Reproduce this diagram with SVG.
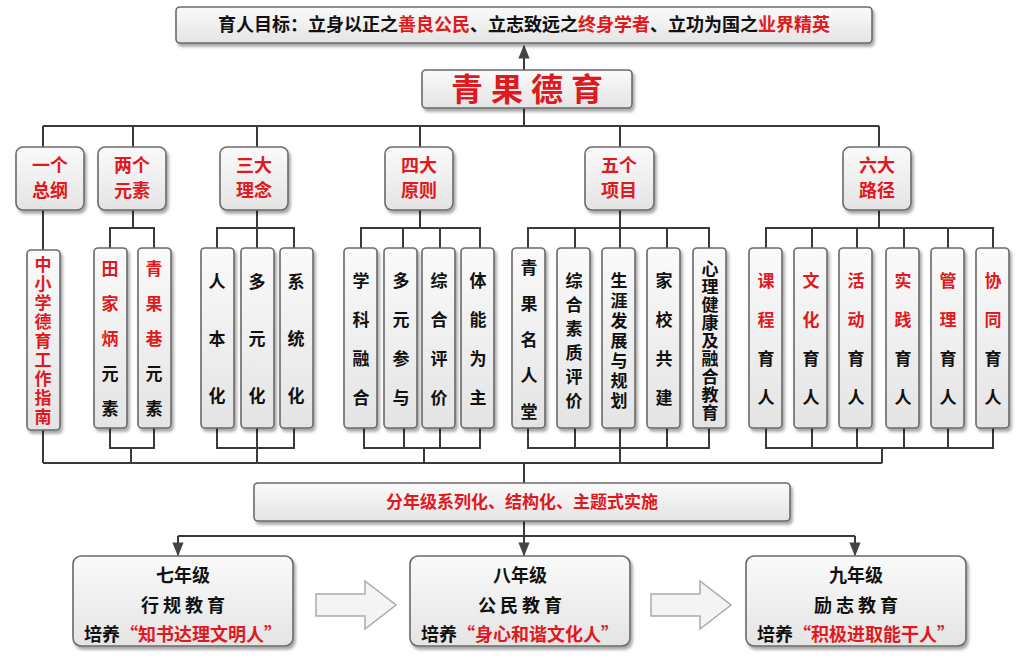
<svg xmlns="http://www.w3.org/2000/svg" width="1024" height="670" viewBox="0 0 1024 670">
<defs>
<linearGradient id="g" x1="0" y1="0" x2="0" y2="1"><stop offset="0" stop-color="#fafafa"/><stop offset="1" stop-color="#e4e4e4"/></linearGradient>
<filter id="sh" x="-20%" y="-20%" width="140%" height="140%"><feDropShadow dx="2" dy="3" stdDeviation="1.5" flood-color="#000" flood-opacity="0.35"/></filter>
<marker id="ar" viewBox="0 0 10 10" refX="9" refY="5" markerWidth="7" markerHeight="7" orient="auto"><path d="M0,1 L10,5 L0,9 z" fill="#444"/></marker>
</defs>
<style>
.b{fill:url(#g);stroke:#6a6a6a;stroke-width:1.6;filter:url(#sh)}
text{font-family:"Noto Sans CJK SC","Noto Sans",sans-serif;font-weight:bold;fill:#111}
.r{fill:#e0191e}
.t{font-size:17px;text-anchor:middle}
.h{font-size:18px;text-anchor:middle;fill:#e0191e}
.v{font-size:17px;writing-mode:vertical-rl;text-anchor:middle}
.c line,.c polyline{stroke:#3a3a3a;stroke-width:2;fill:none}
</style>
<rect width="1024" height="670" fill="#fff"/>
<g class="c">
<line x1="524" y1="126" x2="524" y2="46" marker-end="url(#ar)"/>
<line x1="43" y1="126" x2="879" y2="126"/>
<line x1="43" y1="126" x2="43" y2="148"/><line x1="133" y1="126" x2="133" y2="148"/><line x1="257" y1="126" x2="257" y2="148"/><line x1="420" y1="126" x2="420" y2="148"/><line x1="620" y1="126" x2="620" y2="148"/><line x1="879" y1="126" x2="879" y2="148"/>
<line x1="43" y1="210" x2="43" y2="250"/>
<line x1="133" y1="210" x2="133" y2="228"/><polyline points="110,248 110,228 154,228 154,248"/>
<line x1="257" y1="210" x2="257" y2="248"/><polyline points="217,248 217,228 294,228 294,248"/>
<line x1="420" y1="210" x2="420" y2="228"/><polyline points="361,248 361,228 480,228 480,248"/><line x1="403" y1="228" x2="403" y2="248"/><line x1="440" y1="228" x2="440" y2="248"/>
<line x1="620" y1="210" x2="620" y2="248"/><polyline points="528,248 528,228 709,228 709,248"/><line x1="575" y1="228" x2="575" y2="248"/><line x1="667" y1="228" x2="667" y2="248"/>
<line x1="879" y1="210" x2="879" y2="228"/><polyline points="766,248 766,228 993,228 993,248"/><line x1="812" y1="228" x2="812" y2="248"/><line x1="857" y1="228" x2="857" y2="248"/><line x1="904" y1="228" x2="904" y2="248"/><line x1="948" y1="228" x2="948" y2="248"/>
<line x1="43" y1="430" x2="43" y2="463"/>
<polyline points="110,428 110,448 154,448 154,428"/><line x1="131" y1="448" x2="131" y2="463"/>
<polyline points="217,428 217,448 294,448 294,428"/><line x1="257" y1="428" x2="257" y2="463"/>
<polyline points="364,428 364,448 480,448 480,428"/><line x1="404" y1="428" x2="404" y2="448"/><line x1="440" y1="428" x2="440" y2="448"/><line x1="424" y1="448" x2="424" y2="463"/>
<polyline points="528,428 528,448 709,448 709,428"/><line x1="575" y1="428" x2="575" y2="448"/><line x1="667" y1="428" x2="667" y2="448"/><line x1="620" y1="428" x2="620" y2="463"/>
<polyline points="766,428 766,448 993,448 993,428"/><line x1="812" y1="428" x2="812" y2="448"/><line x1="857" y1="428" x2="857" y2="448"/><line x1="904" y1="428" x2="904" y2="448"/><line x1="948" y1="428" x2="948" y2="448"/><line x1="882" y1="448" x2="882" y2="463"/>
<line x1="43" y1="463" x2="882" y2="463"/>
<line x1="524" y1="463" x2="524" y2="483"/>
<line x1="524" y1="521" x2="524" y2="536"/>
<line x1="178" y1="536" x2="855" y2="536"/>
<line x1="178" y1="536" x2="178" y2="555" marker-end="url(#ar)"/>
<line x1="524" y1="536" x2="524" y2="555" marker-end="url(#ar)"/>
<line x1="855" y1="536" x2="855" y2="555" marker-end="url(#ar)"/>
</g>
<g id="goal"><rect class="b" x="176" y="7" width="696" height="36" rx="4"/><text x="524" y="31" class="t" style="font-size:18px">育人目标：立身以正之<tspan class="r">善良公民</tspan>、立志致远之<tspan class="r">终身学者</tspan>、立功为国之<tspan class="r">业界精英</tspan></text></g>
<g id="root"><rect class="b" x="422" y="70" width="210" height="38" rx="4"/><text x="531" y="101" class="t r" style="font-size:32px;letter-spacing:8px">青果德育</text></g>
<g id="l1a"><rect class="b" x="16" y="147" width="68" height="63" rx="7"/><text x="50" y="172" class="h">一个</text><text x="50" y="197" class="h">总纲</text></g>
<g id="l1b"><rect class="b" x="98" y="147" width="68" height="63" rx="7"/><text x="132" y="172" class="h">两个</text><text x="132" y="197" class="h">元素</text></g>
<g id="l1c"><rect class="b" x="220" y="147" width="68" height="63" rx="7"/><text x="254" y="172" class="h">三大</text><text x="254" y="197" class="h">理念</text></g>
<g id="l1d"><rect class="b" x="385" y="147" width="68" height="63" rx="7"/><text x="419" y="172" class="h">四大</text><text x="419" y="197" class="h">原则</text></g>
<g id="l1e"><rect class="b" x="585" y="147" width="69" height="63" rx="7"/><text x="619" y="172" class="h">五个</text><text x="619" y="197" class="h">项目</text></g>
<g id="l1f"><rect class="b" x="843" y="147" width="68" height="63" rx="7"/><text x="877" y="172" class="h">六大</text><text x="877" y="197" class="h">路径</text></g>
<g id="n01"><rect class="b" x="27" y="250" width="33" height="180" rx="4"/><text x="43" y="342" class="v r" style="letter-spacing:2px">中小学德育工作指南</text></g>
<g id="n02"><rect class="b" x="94" y="248" width="33" height="180" rx="4"/><text x="110" y="348" class="v" style="letter-spacing:18px"><tspan class="r">田家炳</tspan>元素</text></g>
<g id="n03"><rect class="b" x="138" y="248" width="33" height="180" rx="4"/><text x="154" y="348" class="v" style="letter-spacing:18px"><tspan class="r">青果巷</tspan>元素</text></g>
<g id="n04"><rect class="b" x="201" y="248" width="33" height="180" rx="4"/><text x="217" y="359" class="v" style="letter-spacing:40px">人本化</text></g>
<g id="n05"><rect class="b" x="241" y="248" width="33" height="180" rx="4"/><text x="257" y="359" class="v" style="letter-spacing:40px">多元化</text></g>
<g id="n06"><rect class="b" x="280" y="248" width="33" height="180" rx="4"/><text x="296" y="359" class="v" style="letter-spacing:40px">系统化</text></g>
<g id="n07"><rect class="b" x="344" y="248" width="33" height="180" rx="4"/><text x="361" y="350" class="v" style="letter-spacing:22px">学科融合</text></g>
<g id="n08"><rect class="b" x="384" y="248" width="33" height="180" rx="4"/><text x="401" y="350" class="v" style="letter-spacing:22px">多元参与</text></g>
<g id="n09"><rect class="b" x="422" y="248" width="33" height="180" rx="4"/><text x="439" y="350" class="v" style="letter-spacing:22px">综合评价</text></g>
<g id="n10"><rect class="b" x="461" y="248" width="33" height="180" rx="4"/><text x="478" y="350" class="v" style="letter-spacing:22px">体能为主</text></g>
<g id="n11"><rect class="b" x="512" y="248" width="33" height="180" rx="4"/><text x="529" y="349" class="v" style="letter-spacing:19px">青果名人堂</text></g>
<g id="n12"><rect class="b" x="557" y="248" width="33" height="180" rx="4"/><text x="574" y="344" class="v" style="letter-spacing:7px">综合素质评价</text></g>
<g id="n13"><rect class="b" x="602" y="248" width="33" height="180" rx="4"/><text x="619" y="342" class="v" style="letter-spacing:3px">生涯发展与规划</text></g>
<g id="n14"><rect class="b" x="647" y="248" width="33" height="180" rx="4"/><text x="664" y="350" class="v" style="letter-spacing:22px">家校共建</text></g>
<g id="n15"><rect class="b" x="693" y="248" width="33" height="180" rx="4"/><text x="710" y="341" class="v" style="letter-spacing:1px">心理健康及融合教育</text></g>
<g id="n16"><rect class="b" x="749" y="248" width="33" height="180" rx="4"/><text x="766" y="350" class="v" style="letter-spacing:22px"><tspan class="r">课程</tspan>育人</text></g>
<g id="n17"><rect class="b" x="794" y="248" width="33" height="180" rx="4"/><text x="811" y="350" class="v" style="letter-spacing:22px"><tspan class="r">文化</tspan>育人</text></g>
<g id="n18"><rect class="b" x="839" y="248" width="33" height="180" rx="4"/><text x="856" y="350" class="v" style="letter-spacing:22px"><tspan class="r">活动</tspan>育人</text></g>
<g id="n19"><rect class="b" x="886" y="248" width="33" height="180" rx="4"/><text x="903" y="350" class="v" style="letter-spacing:22px"><tspan class="r">实践</tspan>育人</text></g>
<g id="n20"><rect class="b" x="931" y="248" width="33" height="180" rx="4"/><text x="948" y="350" class="v" style="letter-spacing:22px"><tspan class="r">管理</tspan>育人</text></g>
<g id="n21"><rect class="b" x="976" y="248" width="33" height="180" rx="4"/><text x="993" y="350" class="v" style="letter-spacing:22px"><tspan class="r">协同</tspan>育人</text></g>
<g id="impl"><rect class="b" x="254" y="483" width="536" height="38" rx="4"/><text x="522" y="508" class="t r" style="font-size:17px">分年级系列化、结构化、主题式实施</text></g>
<g id="g7"><rect class="b" x="73" y="556" width="220" height="90" rx="8"/><text x="183" y="582" class="t" style="font-size:18px">七年级</text><text x="185" y="612" class="t" style="font-size:18px;letter-spacing:4px">行规教育</text><text x="183" y="641" class="t" style="font-size:18px">培养<tspan class="r">“知书达理文明人”</tspan></text></g>
<g id="g8"><rect class="b" x="410" y="556" width="220" height="90" rx="8"/><text x="520" y="582" class="t" style="font-size:18px">八年级</text><text x="522" y="612" class="t" style="font-size:18px;letter-spacing:4px">公民教育</text><text x="520" y="641" class="t" style="font-size:18px">培养<tspan class="r">“身心和谐文化人”</tspan></text></g>
<g id="g9"><rect class="b" x="746" y="556" width="220" height="90" rx="8"/><text x="856" y="582" class="t" style="font-size:18px">九年级</text><text x="858" y="612" class="t" style="font-size:18px;letter-spacing:4px">励志教育</text><text x="856" y="641" class="t" style="font-size:18px">培养<tspan class="r">“积极进取能干人”</tspan></text></g>
<g id="arrows" fill="#f4f4f4" stroke="#aaa" stroke-width="1.5">
<path d="M316,594 H365 V581 L396,605 L365,629 V616 H316 Z"/>
<path d="M651,594 H700 V581 L731,605 L700,629 V616 H651 Z"/>
</g>
</svg>
